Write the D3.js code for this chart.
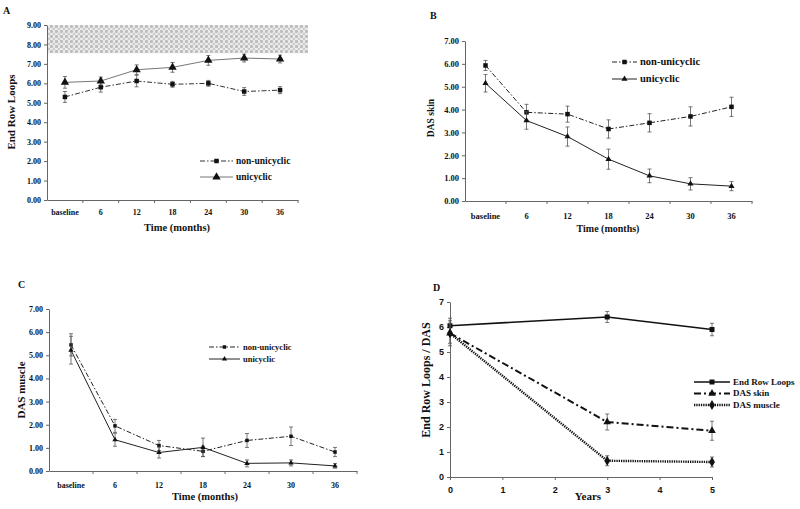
<!DOCTYPE html>
<html>
<head>
<meta charset="utf-8">
<script src="https://cdn.jsdelivr.net/npm/d3@7"></script>
<style>
  body { margin: 0; background: #fff; }
  svg { display: block; }
  text { font-family: "Liberation Serif", "DejaVu Serif", serif; font-weight: bold; fill: #111; }
  .axis path, .axis line { stroke: #666; }
</style>
</head>
<body>
<div id="chart"></div>
<script>
// categories
var months = ["baseline", "6", "12", "18", "24", "30", "36"];
var years = [0, 3, 5];

// A: End Row Loops
var loopsNonUni = [5.30, 5.80, 6.12, 5.95, 6.00, 5.58, 5.65];
var loopsNonUniErr = [0.28, 0.25, 0.30, 0.15, 0.15, 0.20, 0.18];
var loopsUni = [6.05, 6.12, 6.70, 6.82, 7.18, 7.30, 7.25];
var loopsUniErr = [0.30, 0.20, 0.25, 0.25, 0.25, 0.20, 0.20];
var normalRange = [7.55, 9.00];

// B: DAS skin
var skinNonUni = [5.93, 3.88, 3.80, 3.15, 3.42, 3.70, 4.12];
var skinNonUniErr = [0.22, 0.35, 0.35, 0.40, 0.40, 0.42, 0.42];
var skinUni = [5.15, 3.52, 2.82, 1.83, 1.10, 0.75, 0.65];
var skinUniErr = [0.38, 0.38, 0.42, 0.44, 0.30, 0.27, 0.20];

// C: DAS muscle
var muscleNonUni = [5.45, 1.95, 1.10, 0.85, 1.32, 1.50, 0.82];
var muscleNonUniErr = [0.48, 0.28, 0.22, 0.22, 0.30, 0.40, 0.20];
var muscleUni = [5.22, 1.35, 0.80, 1.02, 0.33, 0.35, 0.22];
var muscleUniErr = [0.60, 0.28, 0.24, 0.40, 0.15, 0.13, 0.10];

// D: long term follow-up
var longLoops = [6.05, 6.40, 5.90];
var longLoopsErr = [0.30, 0.22, 0.25];
var longSkin = [5.75, 2.20, 1.85];
var longSkinErr = [0.50, 0.32, 0.38];
var longMuscle = [5.75, 0.65, 0.60];
var longMuscleErr = [0.40, 0.20, 0.20];

// tick values
var ticksA = [0, 1, 2, 3, 4, 5, 6, 7, 8, 9];
var ticksBC = [0, 1, 2, 3, 4, 5, 6, 7];
var ticksD = [0, 1, 2, 3, 4, 5, 6, 7];
var ticksYears = [0, 1, 2, 3, 4, 5];

var dashDot = "5,2,1.5,2";

var svg = d3.select("#chart").append("svg")
    .attr("width", 800)
    .attr("height", 509);

// dotted pattern for the normal range band in A
var pat = svg.append("defs").append("pattern")
    .attr("id", "dots")
    .attr("patternUnits", "userSpaceOnUse")
    .attr("width", 5)
    .attr("height", 5);
pat.append("rect").attr("width", 5).attr("height", 5).attr("fill", "#ececec");
pat.append("circle").attr("cx", 1.5).attr("cy", 1.5).attr("r", 1.6).attr("fill", "#bdbdbd");
pat.append("circle").attr("cx", 4).attr("cy", 4).attr("r", 1.3).attr("fill", "#cacaca");

function marker(g, type, x, y, size, color) {
    var sym = {square: d3.symbolSquare, triangle: d3.symbolTriangle, diamond: d3.symbolDiamond}[type];
    g.append("path")
        .attr("d", d3.symbol().type(sym).size(size * size)())
        .attr("transform", "translate(" + x + "," + y + ")")
        .attr("fill", color);
}

function drawPanel(cfg) {
    var g = svg.append("g");
    var x, xPos;
    if (cfg.categories) {
        x = d3.scaleBand().domain(cfg.categories).range(cfg.xRange);
        xPos = function (i) { return x(cfg.categories[i]) + x.bandwidth() / 2; };
    } else {
        x = d3.scaleLinear().domain(cfg.xDomain).range(cfg.xRange);
        xPos = function (i) { return x(cfg.xValues[i]); };
    }
    var y = d3.scaleLinear().domain(cfg.yDomain).range(cfg.yRange);

    if (cfg.band) {
        g.append("rect")
            .attr("x", cfg.xRange[0] + 1)
            .attr("y", y(cfg.band[1]))
            .attr("width", cfg.bandRight - cfg.xRange[0] - 1)
            .attr("height", y(cfg.band[0]) - y(cfg.band[1]))
            .attr("fill", "url(#dots)");
    }

    // y axis
    var yAxis = g.append("g")
        .attr("class", "axis")
        .attr("color", "#111")
        .attr("transform", "translate(" + cfg.xRange[0] + ",0)")
        .call(d3.axisLeft(y).tickValues(cfg.yTicks).tickSize(3).tickSizeOuter(0)
            .tickFormat(cfg.yFormat));
    yAxis.selectAll("text")
        .style("font-size", cfg.tickFont + "px")
        .style("font-family", cfg.tickFamily || null)
        .attr("x", -6);

    // x axis
    var xAxis = g.append("g")
        .attr("class", "axis")
        .attr("color", "#111")
        .attr("transform", "translate(0," + cfg.yRange[0] + ")");
    if (cfg.categories) {
        xAxis.call(d3.axisBottom(x).tickSize(0).tickSizeOuter(0));
        xAxis.selectAll(".tick text").attr("dy", cfg.xLabelDy);
        xAxis.selectAll(".bound")
            .data(cfg.categories.slice(1).concat([null]))
            .enter().append("line")
            .attr("x1", function (d) { return d === null ? cfg.xRange[1] : x(d); })
            .attr("x2", function (d) { return d === null ? cfg.xRange[1] : x(d); })
            .attr("y1", 0)
            .attr("y2", 3);
    } else {
        xAxis.call(d3.axisBottom(x).tickValues(ticksYears).tickSize(3).tickSizeOuter(0)
            .tickFormat(d3.format("d")));
        xAxis.selectAll(".tick text").attr("dy", cfg.xLabelDy)
            .style("font-family", cfg.tickFamily || null);
    }
    xAxis.selectAll("text").style("font-size", cfg.tickFont + "px");

    // series
    cfg.series.forEach(function (s) {
        var pts = s.values.map(function (v, i) { return [xPos(i), y(v)]; });
        g.append("path")
            .datum(pts)
            .attr("fill", "none")
            .attr("stroke", s.color)
            .attr("stroke-width", s.width)
            .attr("stroke-dasharray", s.dash)
            .attr("d", d3.line());

        s.values.forEach(function (v, i) {
            var cx = xPos(i), e = s.err[i];
            g.append("line")
                .attr("x1", cx).attr("x2", cx)
                .attr("y1", y(v - e)).attr("y2", y(v + e))
                .attr("stroke", "#555").attr("stroke-width", 0.8);
            [v - e, v + e].forEach(function (w) {
                g.append("line")
                    .attr("x1", cx - 2).attr("x2", cx + 2)
                    .attr("y1", y(w)).attr("y2", y(w))
                    .attr("stroke", "#555").attr("stroke-width", 0.8);
            });
            marker(g, s.marker, cx, y(v), s.size, "#111");
        });
    });

    // legend
    cfg.series.forEach(function (s, i) {
        var ly = cfg.legend.y + i * cfg.legend.dy;
        g.append("line")
            .attr("x1", cfg.legend.x).attr("x2", cfg.legend.x + cfg.legend.len)
            .attr("y1", ly).attr("y2", ly)
            .attr("stroke", s.color)
            .attr("stroke-width", s.width)
            .attr("stroke-dasharray", s.dash);
        marker(g, s.marker, cfg.legend.x + cfg.legend.len / 2, ly, s.size, "#111");
        g.append("text")
            .attr("x", cfg.legend.x + cfg.legend.len + 3)
            .attr("y", ly + cfg.legend.font * 0.33)
            .style("font-size", cfg.legend.font + "px")
            .text(s.name);
    });

    // titles
    g.append("text")
        .attr("x", cfg.label[0]).attr("y", cfg.label[1])
        .style("font-size", "10px")
        .text(cfg.letter);
    g.append("text")
        .attr("transform", "translate(" + cfg.yTitle[0] + "," + cfg.yTitle[1] + ") rotate(-90)")
        .attr("text-anchor", "middle")
        .style("font-size", cfg.yTitle[2] + "px")
        .text(cfg.yTitleText);
    g.append("text")
        .attr("x", cfg.xTitle[0]).attr("y", cfg.xTitle[1])
        .attr("text-anchor", "middle")
        .style("font-size", cfg.xTitle[2] + "px")
        .text(cfg.xTitleText);
}

drawPanel({
    letter: "A", label: [3, 14],
    categories: months, xRange: [47, 298], yRange: [200, 25], yDomain: [0, 9],
    yTicks: ticksA, yFormat: d3.format(".2f"), tickFont: 8, xLabelDy: "1.5em",
    band: normalRange, bandRight: 308,
    series: [
        {name: "non-unicyclic", values: loopsNonUni, err: loopsNonUniErr, color: "#333", width: 1, dash: dashDot, marker: "square", size: 4.5},
        {name: "unicyclic", values: loopsUni, err: loopsUniErr, color: "#666", width: 0.9, dash: null, marker: "triangle", size: 5.5}
    ],
    legend: {x: 200, y: 161, dy: 16, len: 33, font: 9.5},
    yTitle: [15, 112, 11], yTitleText: "End Row Loops",
    xTitle: [177, 231, 10.5], xTitleText: "Time (months)"
});

drawPanel({
    letter: "B", label: [430, 19],
    categories: months, xRange: [465, 752], yRange: [201, 41], yDomain: [0, 7],
    yTicks: ticksBC, yFormat: d3.format(".2f"), tickFont: 8.5, xLabelDy: "1.8em",
    series: [
        {name: "non-unicyclic", values: skinNonUni, err: skinNonUniErr, color: "#222", width: 1, dash: dashDot, marker: "square", size: 4.5},
        {name: "unicyclic", values: skinUni, err: skinUniErr, color: "#222", width: 1, dash: null, marker: "triangle", size: 4}
    ],
    legend: {x: 612, y: 62, dy: 17, len: 25, font: 10.5},
    yTitle: [434, 118, 9.5], yTitleText: "DAS skin",
    xTitle: [608, 232, 10], xTitleText: "Time (months)"
});

drawPanel({
    letter: "C", label: [18, 288],
    categories: months, xRange: [49, 357], yRange: [471, 309], yDomain: [0, 7],
    yTicks: ticksBC, yFormat: d3.format(".2f"), tickFont: 8, xLabelDy: "1.7em",
    series: [
        {name: "non-unicyclic", values: muscleNonUni, err: muscleNonUniErr, color: "#222", width: 1, dash: dashDot, marker: "square", size: 3.5},
        {name: "unicyclic", values: muscleUni, err: muscleUniErr, color: "#222", width: 1, dash: null, marker: "triangle", size: 3.5}
    ],
    legend: {x: 209, y: 347, dy: 12, len: 31, font: 8.5},
    yTitle: [25, 390, 11], yTitleText: "DAS muscle",
    xTitle: [205, 500, 10.5], xTitleText: "Time (months)"
});

drawPanel({
    letter: "D", label: [433, 291],
    xValues: years, xDomain: [0, 5], xRange: [450, 712], yRange: [477, 302], yDomain: [0, 7],
    yTicks: ticksD, yFormat: d3.format("d"), tickFont: 9, tickFamily: "Liberation Sans", xLabelDy: "1.1em",
    series: [
        {name: "End Row Loops", values: longLoops, err: longLoopsErr, color: "#111", width: 1.6, dash: null, marker: "square", size: 5},
        {name: "DAS skin", values: longSkin, err: longSkinErr, color: "#111", width: 2, dash: "7,3,2,3", marker: "triangle", size: 5},
        {name: "DAS muscle", values: longMuscle, err: longMuscleErr, color: "#111", width: 2.4, dash: "1.3,1", marker: "diamond", size: 5.5}
    ],
    legend: {x: 694, y: 382, dy: 11.5, len: 36, font: 9},
    yTitle: [430, 380, 12], yTitleText: "End Row Loops / DAS",
    xTitle: [588, 500, 11], xTitleText: "Years"
});
</script>
</body>
</html>
